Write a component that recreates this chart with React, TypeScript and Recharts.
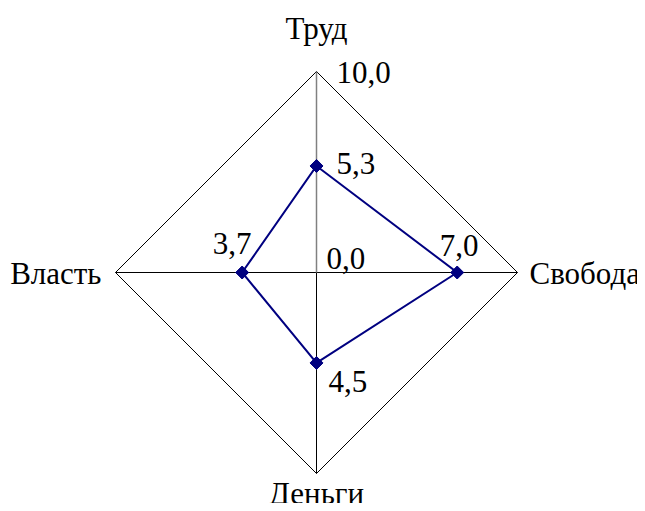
import React from 'react';
import { RadarChart, Radar, PolarGrid, PolarAngleAxis, PolarRadiusAxis } from 'recharts';

const categories = ['Труд', 'Свобода', 'Деньги', 'Власть'];
const values = [5.3, 7.0, 4.5, 3.7];
const radiusTicks = [0, 10];

const data = categories.map((c, i) => ({ name: c, value: values[i] }));

const NAVY = '#000080';

const fmt = (v: number) => v.toFixed(1).replace('.', ',');

// label offsets (style only) for category labels: top, right, bottom, left
const catOffsets = [
  { dx: 0, dy: -25 },
  { dx: 4, dy: 11 },
  { dx: 0, dy: 22 },
  { dx: -6, dy: 11 },
];

// data label offsets per point
const dataLabelOffsets = [
  { dx: 20, dy: 8, anchor: 'start' },
  { dx: 2, dy: -17, anchor: 'middle' },
  { dx: 12, dy: 29, anchor: 'start' },
  { dx: -10, dy: -19, anchor: 'middle' },
];

const AngleTick = (props: any) => {
  const { x, y, payload, index, textAnchor } = props;
  const o = catOffsets[index] || { dx: 0, dy: 0 };
  return (
    <text x={x + o.dx} y={y + o.dy} textAnchor={textAnchor} fill="#000" style={{ fontFamily: "'Liberation Serif'", fontSize: 31 }}>
      {payload.value}
    </text>
  );
};

const RadiusTick = (props: any) => {
  const { x, y, payload } = props;
  const isZero = payload.value === 0;
  return (
    <text x={x + (isZero ? 10 : 20)} y={y + (isZero ? -4 : 11)} textAnchor="start" fill="#000" style={{ fontFamily: "'Liberation Serif'", fontSize: 31 }}>
      {fmt(payload.value)}
    </text>
  );
};

const Diamond = (props: any) => {
  const { cx, cy } = props;
  const s = 6.5;
  return <path d={`M${cx},${cy - s}L${cx + s},${cy}L${cx},${cy + s}L${cx - s},${cy}Z`} fill={NAVY} stroke={NAVY} />;
};

const DataLabel = (props: any) => {
  const { x, y, value, index } = props;
  const o = dataLabelOffsets[index] || { dx: 0, dy: 0, anchor: 'middle' };
  return (
    <text x={x + o.dx} y={y + o.dy} textAnchor={o.anchor} fill="#000" style={{ fontFamily: "'Liberation Serif'", fontSize: 31 }}>
      {fmt(value)}
    </text>
  );
};

export default function App() {
  return (
    <div style={{ marginLeft: -8, marginTop: -8, marginBottom: -8, marginRight: -8, width: 645, height: 511 }}>
      <RadarChart
        width={645}
        height={511}
        data={data}
        cx={316.5}
        cy={272.5}
        outerRadius={201}
        margin={{ top: 0, right: 0, bottom: 0, left: 0 }}
      >
        <PolarGrid gridType="polygon" polarRadius={[201]} stroke="#000" strokeWidth={1} />
        <PolarAngleAxis dataKey="name" tick={<AngleTick />} tickLine={false} axisLine={false} />
        <PolarRadiusAxis
          radiusAxisId="bottom"
          angle={270}
          domain={[0, 10]}
          ticks={radiusTicks}
          tick={false}
          axisLine={{ stroke: '#808080', strokeWidth: 1.5 }}
          tickLine={false}
        />
        <PolarRadiusAxis
          angle={90}
          domain={[0, 10]}
          ticks={radiusTicks}
          tickCount={2}
          tick={<RadiusTick />}
          axisLine={{ stroke: '#808080', strokeWidth: 1.5 }}
          tickLine={false}
        />
        <Radar
          dataKey="value"
          stroke={NAVY}
          strokeWidth={2}
          fill="none"
          fillOpacity={0}
          dot={<Diamond />}
          label={<DataLabel />}
          isAnimationActive={false}
        />
      </RadarChart>
    </div>
  );
}
